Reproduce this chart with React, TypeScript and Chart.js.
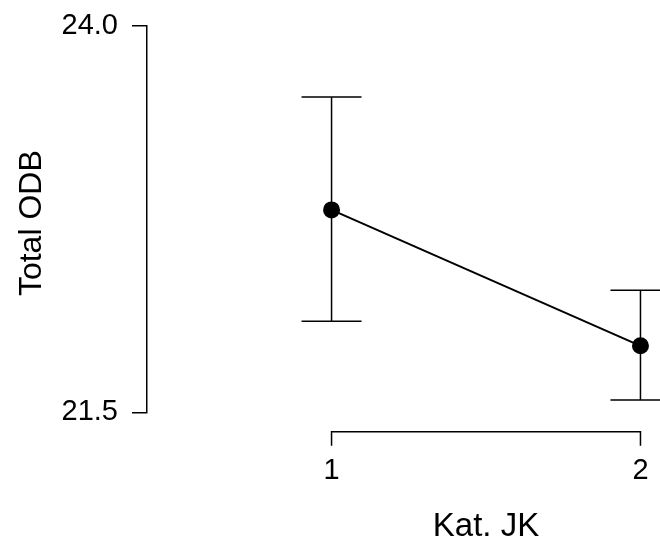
import React, { useEffect, useRef } from "react";
import { Chart, registerables } from "chart.js";
Chart.register(...registerables);

const categories = [1, 2];
const categoryLabels = ["1", "2"];
const means = [22.81, 21.93];
const lower = [22.09, 21.58];
const upper = [23.54, 22.29];
const yTicks = [21.5, 24.0];
const xTitle = "Kat. JK";
const yTitle = "Total ODB";

const FONT = "'Liberation Sans', Arial, Helvetica, sans-serif";

export default function App() {
  const ref = useRef<HTMLCanvasElement>(null);

  useEffect(() => {
    if (!ref.current) return;

    const errorBars = {
      id: "errorBars",
      beforeDatasetsDraw(chart: any) {
        const { ctx, scales } = chart;
        const x = scales.x;
        const y = scales.y;
        ctx.save();
        ctx.strokeStyle = "#000";
        ctx.lineWidth = 1.5;
        categories.forEach((c, i) => {
          const px = x.getPixelForValue(c);
          const yt = y.getPixelForValue(upper[i]);
          const yb = y.getPixelForValue(lower[i]);
          ctx.beginPath();
          ctx.moveTo(px, yt);
          ctx.lineTo(px, yb);
          ctx.moveTo(px - 30, yt);
          ctx.lineTo(px + 30, yt);
          ctx.moveTo(px - 30, yb);
          ctx.lineTo(px + 30, yb);
          ctx.stroke();
        });
        ctx.restore();
      },
    };

    const axisDecor = {
      id: "axisDecor",
      afterDraw(chart: any) {
        const { ctx, chartArea, scales } = chart;
        const x = scales.x;
        const y = scales.y;
        const x1 = x.getPixelForValue(categories[0]);
        const x2 = x.getPixelForValue(categories[categories.length - 1]);
        const yy = chartArea.bottom + 19.5;
        ctx.save();
        ctx.strokeStyle = "#000";
        ctx.lineWidth = 1.5;
        ctx.beginPath();
        ctx.moveTo(x1, yy + 14);
        ctx.lineTo(x1, yy);
        ctx.lineTo(x2, yy);
        ctx.lineTo(x2, yy + 14);
        ctx.stroke();

        // axis titles
        ctx.fillStyle = "#000";
        ctx.textBaseline = "alphabetic";
        ctx.textAlign = "center";
        ctx.font = `33px ${FONT}`;
        ctx.fillText(xTitle, (x1 + x2) / 2, 536);

        const yMid = (y.getPixelForValue(yTicks[0]) + y.getPixelForValue(yTicks[yTicks.length - 1])) / 2 + 4;
        ctx.translate(41, yMid);
        ctx.rotate(-Math.PI / 2);
        ctx.font = `32px ${FONT}`;
        ctx.fillText(yTitle, 0, 0);
        ctx.restore();
      },
    };

    const chart = new Chart(ref.current, {
      type: "line",
      data: {
        datasets: [
          {
            data: categories.map((c, i) => ({ x: c, y: means[i] })),
            borderColor: "#000",
            backgroundColor: "#000",
            borderWidth: 2,
            pointRadius: 8.5,
            pointBackgroundColor: "#000",
            pointBorderColor: "#000",
            pointBorderWidth: 0,
            tension: 0,
            clip: false as any,
          },
        ],
      },
      options: {
        responsive: false,
        animation: false,
        devicePixelRatio: 1,
        layout: { padding: { top: 26, right: 0, bottom: 0, left: 0 } },
        plugins: {
          legend: { display: false },
          tooltip: { enabled: false },
        },
        scales: {
          x: {
            type: "linear",
            min: 0.4026,
            max: 2.0357,
            afterBuildTicks: (s: any) => {
              s.ticks = categories.map((v) => ({ value: v }));
            },
            afterFit: (s: any) => {
              s.height = 126.7;
              s.paddingLeft = 0;
              s.paddingRight = 0;
              s.paddingTop = 0;
              s.paddingBottom = 0;
            },
            grid: { display: false },
            border: { display: false },
            ticks: {
              padding: 33.5,
              color: "#000",
              font: { family: FONT, size: 29 },
              maxRotation: 0,
              callback: (v: any) => {
                const idx = categories.indexOf(Number(v));
                return idx >= 0 ? categoryLabels[idx] : "";
              },
            },
          },
          y: {
            type: "linear",
            min: 21.5,
            max: 24.0,
            afterBuildTicks: (s: any) => {
              s.ticks = yTicks.map((v) => ({ value: v }));
            },
            afterFit: (s: any) => {
              s.width = 147;
              s.paddingLeft = 0;
              s.paddingRight = 0;
              s.paddingTop = 0;
              s.paddingBottom = 0;
            },
            grid: {
              display: true,
              drawOnChartArea: false,
              drawTicks: true,
              tickLength: 15,
              color: "#000",
              lineWidth: 1.5,
            },
            border: { display: true, color: "#000", width: 1.5 },
            ticks: {
              padding: 14,
              color: "#000",
              font: { family: FONT, size: 29 },
              callback: (v: any) => Number(v).toFixed(1),
            },
          },
        },
      },
      plugins: [errorBars, axisDecor],
    });

    return () => chart.destroy();
  }, []);

  return (
    <div
      style={{
        position: "fixed",
        left: 0,
        top: 0,
        width: 660,
        height: 539,
        background: "#fff",
      }}
    >
      <canvas ref={ref} width={660} height={539} />
    </div>
  );
}
